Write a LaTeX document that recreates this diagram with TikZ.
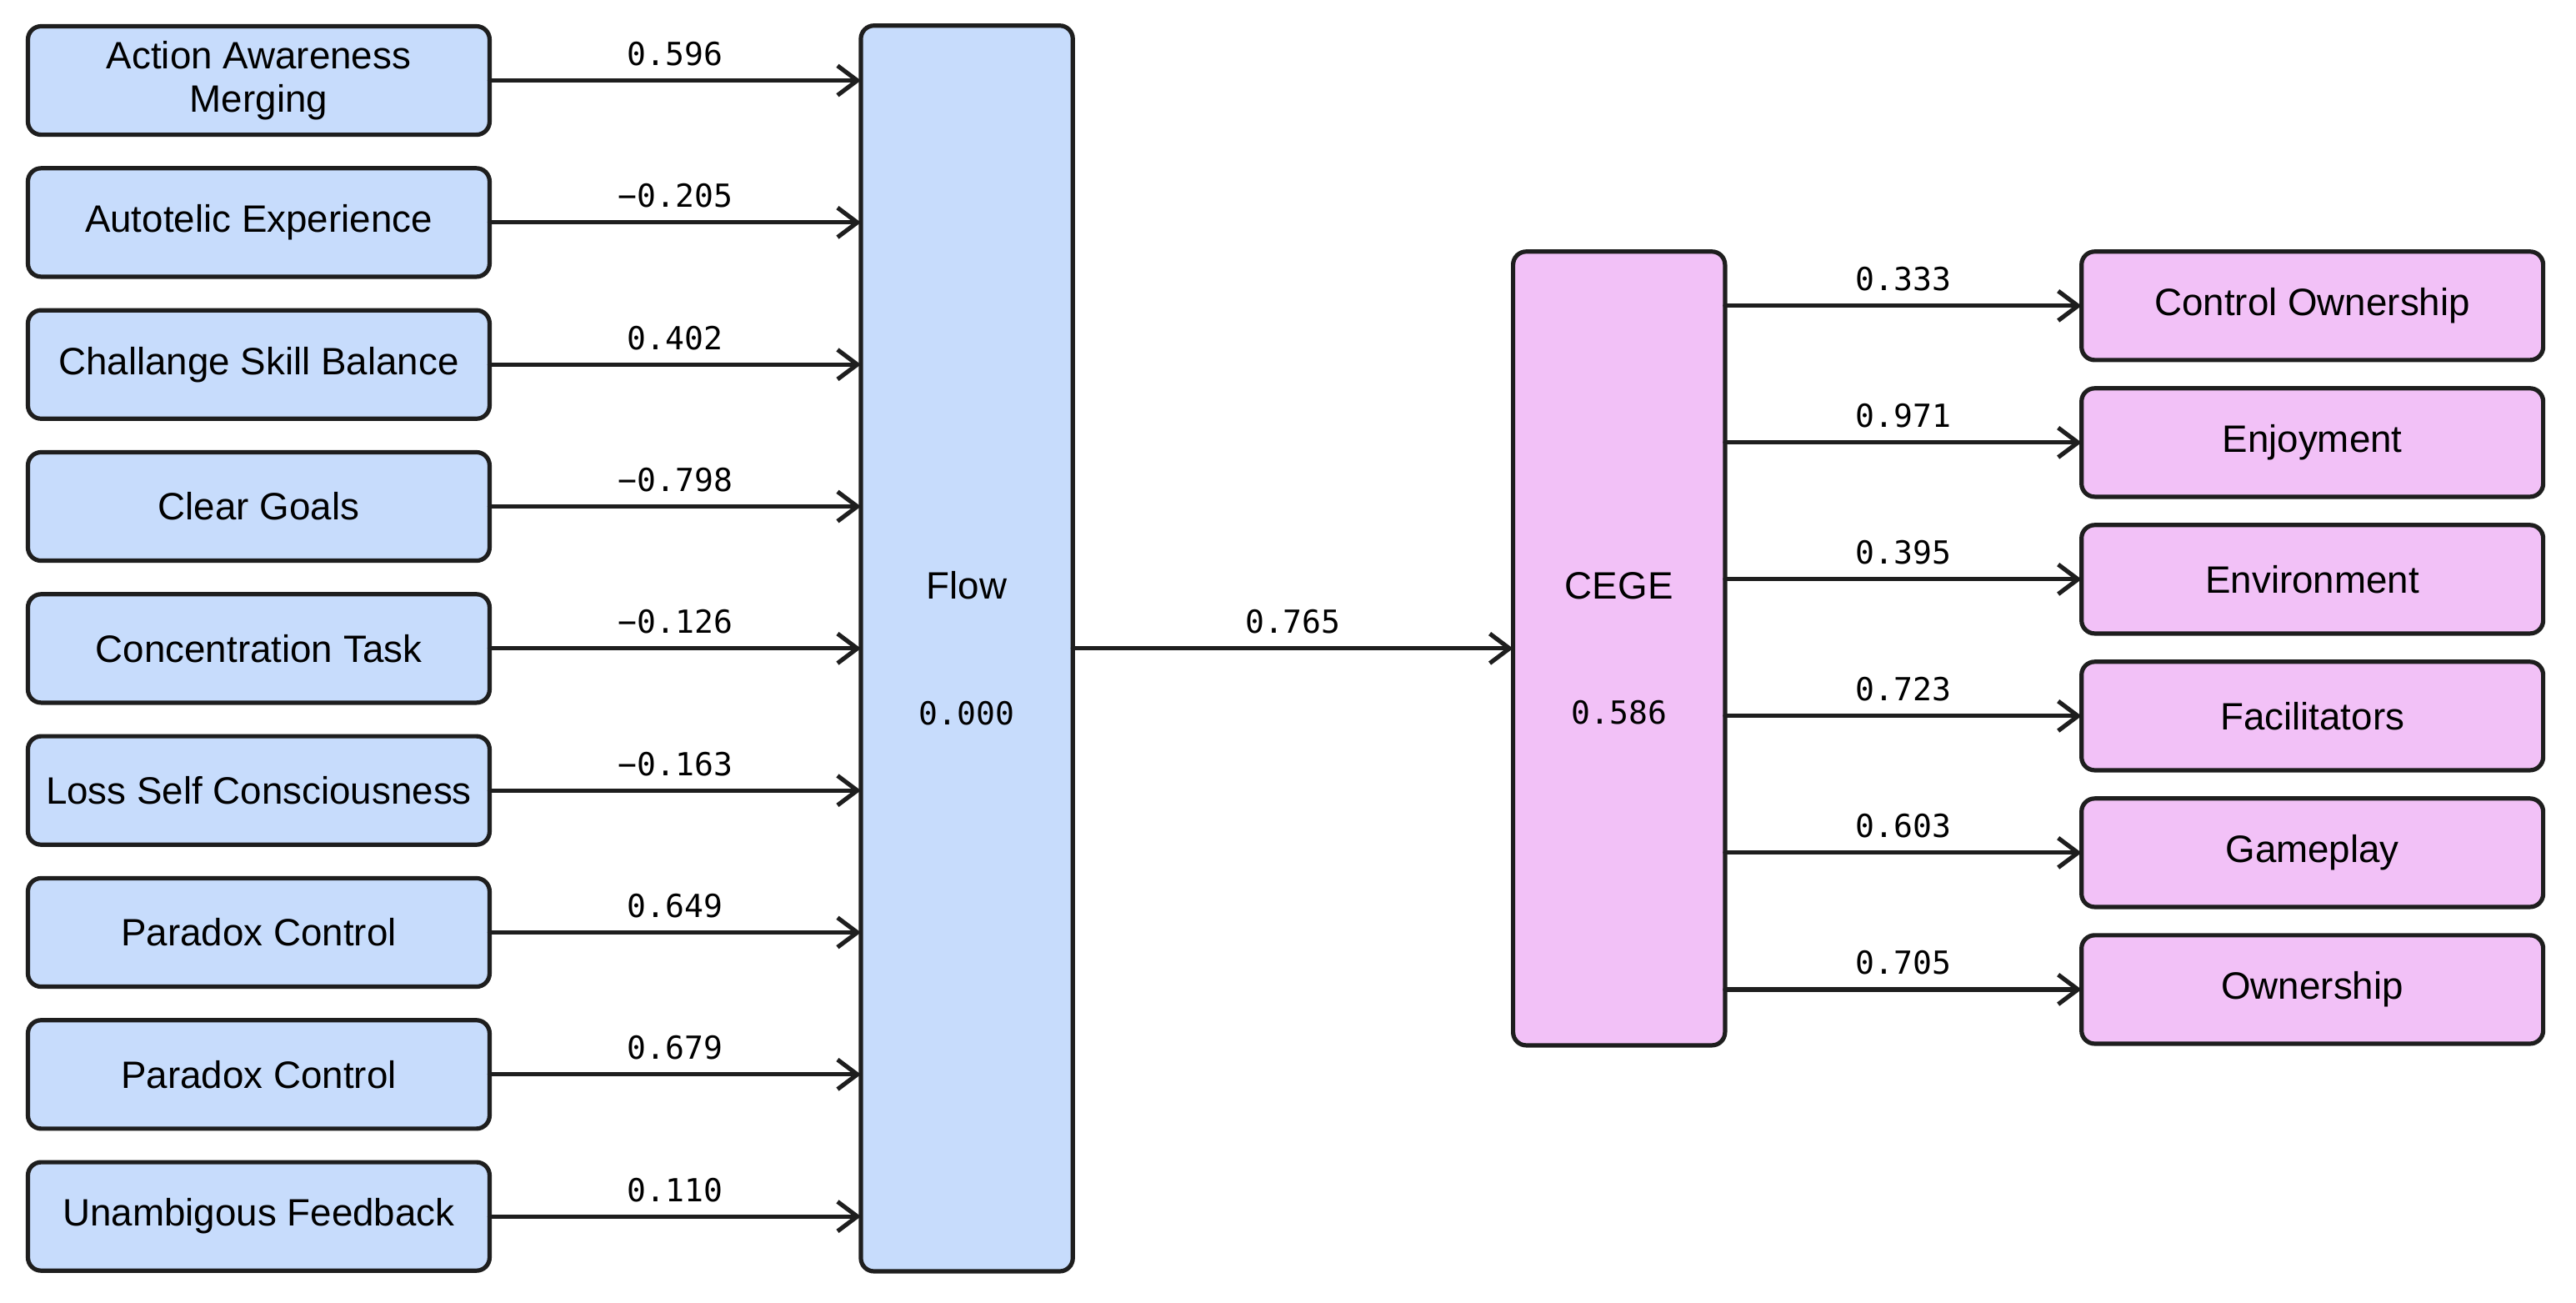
\documentclass[tikz,border=0pt]{standalone}
\usepackage{fontspec}
\setmainfont{Liberation Sans}
\newfontfamily\numfont{DejaVu Sans Mono}
\usepackage{tikz}
\usetikzlibrary{arrows.meta, positioning, calc}
\definecolor{flowblue}{RGB}{199, 220, 252}
\definecolor{cegepink}{RGB}{242, 193, 247}
\definecolor{inkgray}{RGB}{30, 30, 30}

\begin{document}
\begin{tikzpicture}[font=\fontsize{13.2}{15}\selectfont,
  item/.style={draw=inkgray, line width=1.5pt, rounded corners=0.16cm, minimum width=5.62cm, minimum height=1.32cm, align=center, inner sep=2pt, outer sep=0pt},
  factor/.style={item, minimum width=2.58cm},
  link/.style={->, >={Straight Barb[length=2.4mm, width=3.6mm]}, draw=inkgray, line width=1.5pt, line cap=round},
  weight/.style={above=1pt, font=\numfont\fontsize{11}{13}\selectfont}]
\useasboundingbox (0,0) rectangle (31.36,15.848);
% flow dimensions
\node[item, fill=flowblue] (action) at (3.15,14.868) {Action Awareness\\Merging};
\node[item, fill=flowblue, below=0.408cm of action] (autotelic) {Autotelic Experience};
\node[item, fill=flowblue, below=0.408cm of autotelic] (challenge) {Challange Skill Balance};
\node[item, fill=flowblue, below=0.408cm of challenge] (goals) {Clear Goals};
\node[item, fill=flowblue, below=0.408cm of goals] (concentration) {Concentration Task};
\node[item, fill=flowblue, below=0.408cm of concentration] (loss) {Loss Self Consciousness};
\node[item, fill=flowblue, below=0.408cm of loss] (paradoxa) {Paradox Control};
\node[item, fill=flowblue, below=0.408cm of paradoxa] (paradoxb) {Paradox Control};
\node[item, fill=flowblue, below=0.408cm of paradoxb] (feedback) {Unambigous Feedback};
% latent constructs
\node[factor, fill=flowblue, minimum height=15.16cm, right=4.52cm of $(action.north east)!0.5!(feedback.south east)$] (flow) {Flow\\[1.0cm]{\numfont\fontsize{11}{13}\selectfont 0.000}};
\node[factor, fill=cegepink, minimum height=9.66cm, right=5.36cm of flow] (cege) {CEGE\\[1.0cm]{\numfont\fontsize{11}{13}\selectfont 0.586}};
% cege dimensions
\node[item, fill=cegepink, below right=0cm and 4.34cm of cege.north east] (ownctrl) {Control Ownership};
\node[item, fill=cegepink, below=0.344cm of ownctrl] (enjoyment) {Enjoyment};
\node[item, fill=cegepink, below=0.344cm of enjoyment] (environment) {Environment};
\node[item, fill=cegepink, below=0.344cm of environment] (facilitators) {Facilitators};
\node[item, fill=cegepink, below=0.344cm of facilitators] (gameplay) {Gameplay};
\node[item, fill=cegepink, below=0.344cm of gameplay] (ownership) {Ownership};
% loadings
\draw[link] (action.east) -- node[weight] {0.596} (action.east -| flow.west);
\draw[link] (autotelic.east) -- node[weight] {−0.205} (autotelic.east -| flow.west);
\draw[link] (challenge.east) -- node[weight] {0.402} (challenge.east -| flow.west);
\draw[link] (goals.east) -- node[weight] {−0.798} (goals.east -| flow.west);
\draw[link] (concentration.east) -- node[weight] {−0.126} (concentration.east -| flow.west);
\draw[link] (loss.east) -- node[weight] {−0.163} (loss.east -| flow.west);
\draw[link] (paradoxa.east) -- node[weight] {0.649} (paradoxa.east -| flow.west);
\draw[link] (paradoxb.east) -- node[weight] {0.679} (paradoxb.east -| flow.west);
\draw[link] (feedback.east) -- node[weight] {0.110} (feedback.east -| flow.west);
\draw[link] (flow.east) -- node[weight] {0.765} (cege.west);
\draw[link] (ownctrl.west -| cege.east) -- node[weight] {0.333} (ownctrl.west);
\draw[link] (enjoyment.west -| cege.east) -- node[weight] {0.971} (enjoyment.west);
\draw[link] (environment.west -| cege.east) -- node[weight] {0.395} (environment.west);
\draw[link] (facilitators.west -| cege.east) -- node[weight] {0.723} (facilitators.west);
\draw[link] (gameplay.west -| cege.east) -- node[weight] {0.603} (gameplay.west);
\draw[link] (ownership.west -| cege.east) -- node[weight] {0.705} (ownership.west);
\end{tikzpicture}
\end{document}
